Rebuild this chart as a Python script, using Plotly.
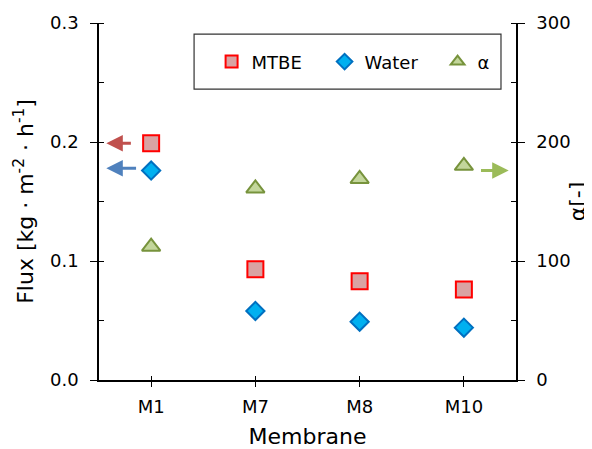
import plotly.graph_objects as go

membranes = ["M1", "M7", "M8", "M10"]
mtbe_flux = [0.199, 0.093, 0.083, 0.076]
water_flux = [0.176, 0.058, 0.049, 0.044]
alpha = [112, 161, 169, 180]

FONT = "DejaVu Sans"
xpos = list(range(len(membranes)))

fig = go.Figure()
fig.add_trace(go.Scatter(
    x=xpos, y=mtbe_flux, mode="markers", name="MTBE",
    marker=dict(symbol="square", size=16, color="#d9a3a3",
                line=dict(color="#ff0000", width=2))))
fig.add_trace(go.Scatter(
    x=xpos, y=water_flux, mode="markers", name="Water",
    marker=dict(symbol="diamond", size=14, color="#00b0f0",
                line=dict(color="#0070c0", width=2))))
fig.add_trace(go.Scatter(
    x=xpos, y=alpha, mode="markers", name="α", yaxis="y2",
    marker=dict(symbol="triangle-up", size=16, color="#c3d69b",
                line=dict(color="#77933c", width=2))))
# dummy traces to host overlay tick axes (inner half of crossing ticks)
fig.add_trace(go.Scatter(x=[None], y=[None], xaxis="x2", yaxis="y3",
                         showlegend=False, hoverinfo="skip"))
fig.add_trace(go.Scatter(x=[None], y=[None], xaxis="x2", yaxis="y4",
                         showlegend=False, hoverinfo="skip"))

tickfont = dict(family=FONT, size=18, color="#000000")
titlefont = dict(family=FONT, size=22, color="#000000")

fig.update_layout(
    width=592, height=449,
    margin=dict(l=91, r=84, t=15, b=77),
    paper_bgcolor="white", plot_bgcolor="white",
    font=dict(family=FONT, color="#000000"),
    xaxis=dict(range=[-0.5, 3.5], tickvals=xpos, ticktext=membranes,
               showline=True, linecolor="black", linewidth=1.5,
               ticks="outside", ticklen=5, tickcolor="black",
               showgrid=False, zeroline=False, tickfont=tickfont,
               automargin=False, ticklabelstandoff=5,
               title=dict(text="Membrane", font=titlefont, standoff=12)),
    xaxis2=dict(range=[-0.5, 3.5], overlaying="x", anchor="y",
                tickvals=xpos, ticks="inside", ticklen=4, tickcolor="black",
                showticklabels=False, showline=False, showgrid=False,
                zeroline=False, automargin=False),
    yaxis=dict(range=[0, 0.3], tickvals=[0, 0.1, 0.2, 0.3],
               ticktext=["0.0", "0.1", "0.2", "0.3"],
               showline=True, linecolor="black", linewidth=1.5,
               ticks="outside", ticklen=7, tickcolor="black",
               minor=dict(dtick=0.05, ticks="inside", ticklen=5, tickcolor="black"),
               showgrid=False, zeroline=False, tickfont=tickfont,
               automargin=False, ticklabelstandoff=8,
               title=dict(text="Flux [kg · m<sup>-2</sup> · h<sup>-1</sup>]",
                          font=titlefont, standoff=10)),
    yaxis2=dict(range=[0, 300], tickvals=[0, 100, 200, 300], overlaying="y",
                side="right", anchor="x",
                showline=True, linecolor="black", linewidth=1.5,
                ticks="outside", ticklen=7, tickcolor="black",
                minor=dict(dtick=50, ticks="inside", ticklen=5, tickcolor="black"),
                showgrid=False, zeroline=False, tickfont=tickfont,
                automargin=False, ticklabelstandoff=8,
                title=dict(text="α[-]", font=titlefont, standoff=0)),
    yaxis3=dict(range=[0, 0.3], tickvals=[0, 0.1, 0.2, 0.3], overlaying="y",
                side="left", anchor="x2", ticks="inside", ticklen=5,
                tickcolor="black", showticklabels=False, showline=False,
                showgrid=False, zeroline=False, automargin=False),
    yaxis4=dict(range=[0, 300], tickvals=[0, 100, 200, 300], overlaying="y",
                side="right", anchor="x2", ticks="inside", ticklen=5,
                tickcolor="black", showticklabels=False, showline=False,
                showgrid=False, zeroline=False, automargin=False),
    legend=dict(orientation="h", x=0.27, y=0.891, xanchor="left", yanchor="middle",
                bgcolor="rgba(0,0,0,0)", borderwidth=0,
                font=dict(family=FONT, size=18, color="#000000"),
                entrywidth=68, entrywidthmode="pixels", itemsizing="constant",
                traceorder="normal"),
    shapes=[dict(type="rect", xref="paper", yref="paper",
                 x0=0.228, x1=0.964, y0=0.815, y1=0.969,
                 line=dict(color="#333333", width=1.2), fillcolor="rgba(0,0,0,0)")],
    showlegend=True,
)

# arrows indicating which axis each series belongs to
fig.add_annotation(x=-0.43, y=mtbe_flux[0], ax=-0.18, ay=mtbe_flux[0],
                   xref="x", yref="y", axref="x", ayref="y", text="",
                   showarrow=True, arrowhead=2, arrowsize=1.1, arrowwidth=3,
                   arrowcolor="#c0504d")
fig.add_annotation(x=-0.43, y=water_flux[0] + 0.002, ax=-0.13, ay=water_flux[0] + 0.002,
                   xref="x", yref="y", axref="x", ayref="y", text="",
                   showarrow=True, arrowhead=2, arrowsize=1.1, arrowwidth=3,
                   arrowcolor="#4f81bd")
fig.add_annotation(x=3.43, y=alpha[3] - 4, ax=3.15, ay=alpha[3] - 4,
                   xref="x", yref="y2", axref="x", ayref="y2", text="",
                   showarrow=True, arrowhead=2, arrowsize=1.1, arrowwidth=3,
                   arrowcolor="#9bbb59")

fig.write_html("out.html")
